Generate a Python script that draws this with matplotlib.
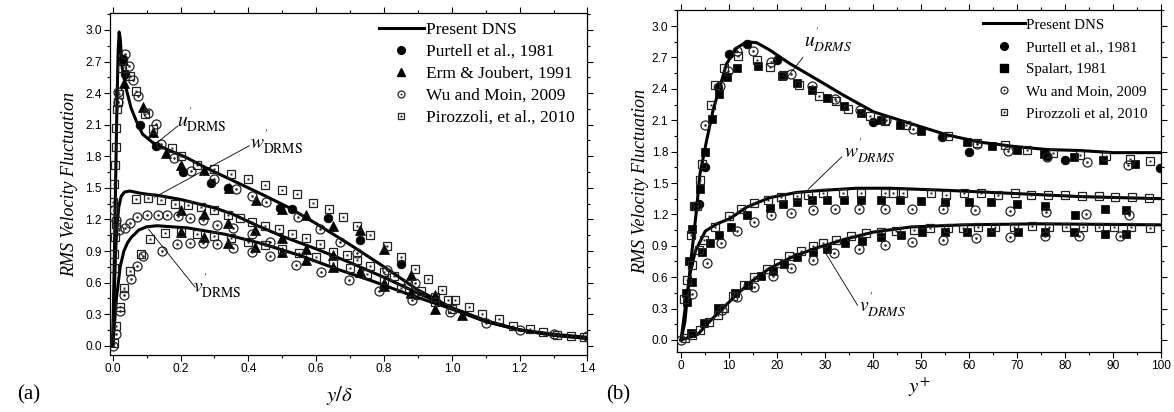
import numpy as np
import matplotlib.pyplot as plt
from matplotlib.lines import Line2D
from matplotlib.legend_handler import HandlerTuple
from matplotlib.ticker import MultipleLocator

plt.rcParams['mathtext.fontset'] = 'stix'
SERIF = 'Liberation Serif'
SANS = 'Liberation Sans'

# ---------------- panel (a): y/delta ----------------
a_dns_u_x = [0, 0.004, 0.008, 0.012, 0.016, 0.019, 0.022, 0.028, 0.039, 0.054, 0.069, 0.088, 0.118, 0.157,
             0.216, 0.275, 0.354, 0.452, 0.521, 0.60, 0.70, 0.80, 0.90, 1.00, 1.10, 1.20, 1.30, 1.40]
a_dns_u_y = [0, 0.7, 1.45, 2.2, 2.8, 2.98, 2.92, 2.64, 2.45, 2.26, 2.14, 2.01, 1.93, 1.87,
             1.79, 1.69, 1.57, 1.42, 1.31, 1.16, 0.96, 0.75, 0.53, 0.36, 0.23, 0.15, 0.10, 0.07]
a_dns_w_x = [0, 0.004, 0.008, 0.012, 0.018, 0.025, 0.035, 0.05, 0.065, 0.08, 0.10, 0.13, 0.20, 0.30,
             0.354, 0.42, 0.50, 0.60, 0.70, 0.80, 0.90, 1.00, 1.10, 1.20, 1.30, 1.40]
a_dns_w_y = [0, 0.45, 0.85, 1.12, 1.32, 1.42, 1.46, 1.47, 1.46, 1.45, 1.44, 1.43, 1.39, 1.31,
             1.25, 1.15, 1.04, 0.92, 0.79, 0.65, 0.50, 0.36, 0.24, 0.15, 0.10, 0.07]
a_dns_v_x = [0, 0.005, 0.011, 0.022, 0.033, 0.044, 0.055, 0.077, 0.10, 0.13, 0.22, 0.33, 0.44, 0.55,
             0.66, 0.77, 0.88, 0.99, 1.10, 1.20, 1.30, 1.40]
a_dns_v_y = [0, 0.2, 0.45, 0.75, 0.9, 0.98, 1.03, 1.1, 1.13, 1.14, 1.12, 1.06, 0.97, 0.86,
             0.73, 0.61, 0.48, 0.36, 0.23, 0.15, 0.11, 0.08]

a_purtell_x = [0.03, 0.037, 0.079, 0.128, 0.206, 0.29, 0.34, 0.494, 0.528, 0.636, 0.73, 0.85]
a_purtell_y = [2.72, 2.58, 2.10, 1.90, 1.65, 1.55, 1.50, 1.31, 1.30, 1.21, 1.00, 0.78]

a_erm_u_x = [0.03, 0.034, 0.088, 0.118, 0.157, 0.20, 0.27, 0.344, 0.423, 0.50, 0.57, 0.65, 0.73, 0.80, 0.88, 0.95]
a_erm_u_y = [2.71, 2.50, 2.27, 2.03, 1.83, 1.72, 1.67, 1.50, 1.38, 1.30, 1.24, 1.14, 1.10, 0.92, 0.67, 0.48]
a_erm_w_x = [0.20, 0.27, 0.34, 0.42, 0.50, 0.57, 0.65, 0.73, 0.80, 0.88, 0.95]
a_erm_w_y = [1.29, 1.25, 1.17, 1.10, 1.02, 0.92, 0.86, 0.71, 0.60, 0.51, 0.45]
a_erm_v_x = [0.20, 0.27, 0.34, 0.42, 0.50, 0.57, 0.65, 0.73, 0.80, 0.88, 0.95, 1.03]
a_erm_v_y = [1.08, 1.03, 0.98, 0.94, 0.89, 0.81, 0.75, 0.70, 0.57, 0.50, 0.35, 0.29]

a_wu_u_x = [0.0, 0.015, 0.017, 0.037, 0.047, 0.059, 0.074, 0.103, 0.128, 0.143, 0.182, 0.231, 0.30,
            0.364, 0.41, 0.452, 0.547, 0.61, 0.67, 0.72, 0.81, 0.89]
a_wu_u_y = [0.0, 2.32, 2.41, 2.77, 2.66, 2.52, 2.37, 2.21, 2.11, 1.92, 1.78, 1.66, 1.58,
            1.49, 1.42, 1.37, 1.22, 1.11, 0.99, 0.88, 0.72, 0.60]
a_wu_w_x = [0.004, 0.01, 0.02, 0.035, 0.05, 0.072, 0.10, 0.133, 0.16, 0.193, 0.227, 0.265, 0.307,
            0.356, 0.41, 0.464]
a_wu_w_y = [1.29, 1.19, 1.10, 1.12, 1.17, 1.22, 1.24, 1.24, 1.24, 1.23, 1.21, 1.19, 1.15,
            1.12, 1.06, 0.99]
a_wu_v_x = [0.011, 0.022, 0.033, 0.055, 0.072, 0.09, 0.144, 0.19, 0.227, 0.265, 0.307, 0.356, 0.41,
            0.464, 0.54, 0.613, 0.696, 0.785, 0.884, 0.994, 1.1, 1.2, 1.3, 1.4]
a_wu_v_y = [0.11, 0.33, 0.48, 0.63, 0.76, 0.85, 0.90, 0.97, 0.98, 0.98, 0.97, 0.93, 0.89,
            0.85, 0.77, 0.70, 0.62, 0.52, 0.43, 0.32, 0.22, 0.15, 0.11, 0.09]

a_pir_u_x = [0.002, 0.004, 0.007, 0.009, 0.010, 0.014, 0.017, 0.020, 0.026, 0.05, 0.069, 0.095, 0.12, 0.174,
             0.20, 0.25, 0.30, 0.35, 0.40, 0.45, 0.50, 0.543, 0.592, 0.638, 0.68, 0.72, 0.76, 0.81, 0.85,
             0.89, 0.93, 0.97, 1.01, 1.05, 1.09, 1.14, 1.18, 1.23, 1.27, 1.31, 1.35, 1.39]
a_pir_u_y = [1.37, 1.54, 1.72, 1.89, 2.07, 2.25, 2.32, 2.39, 2.64, 2.56, 2.42, 2.20, 2.06, 1.88,
             1.80, 1.72, 1.68, 1.63, 1.58, 1.53, 1.48, 1.44, 1.36, 1.30, 1.22, 1.14, 1.05, 0.95, 0.84,
             0.73, 0.63, 0.53, 0.43, 0.37, 0.30, 0.25, 0.19, 0.16, 0.13, 0.10, 0.09, 0.08]
a_pir_w_x = [0.003, 0.005, 0.007, 0.010, 0.069, 0.103, 0.143, 0.184, 0.221, 0.26, 0.30, 0.34, 0.375, 0.41,
             0.45, 0.49, 0.53, 0.57, 0.61, 0.65, 0.69, 0.72, 0.76, 0.80, 0.83, 0.87, 0.91, 0.95, 0.99]
a_pir_w_y = [0.74, 0.87, 1.03, 1.16, 1.39, 1.40, 1.38, 1.35, 1.34, 1.32, 1.29, 1.24, 1.21, 1.18,
             1.14, 1.11, 1.06, 1.02, 0.97, 0.89, 0.86, 0.81, 0.76, 0.70, 0.66, 0.59, 0.52, 0.46, 0.43]
a_pir_v_x = [0.005, 0.011, 0.022, 0.033, 0.05, 0.083, 0.11, 0.155, 0.20, 0.25, 0.30, 0.35, 0.40, 0.45,
             0.50, 0.55, 0.60, 0.65, 0.70, 0.75, 0.80, 0.85, 0.90, 0.95, 1.00]
a_pir_v_y = [0.03, 0.19, 0.37, 0.55, 0.71, 0.87, 1.01, 1.07, 1.08, 1.06, 1.04, 1.02, 0.99, 0.96,
             0.92, 0.88, 0.84, 0.79, 0.74, 0.68, 0.62, 0.55, 0.48, 0.42, 0.35]

# ---------------- panel (b): y+ ----------------
b_dns_u_x = [0, 0.8, 1.95, 3.1, 3.96, 5.35, 6.7, 8.1, 9.5, 11.6, 13.7, 15.8, 18.5, 22.7, 28.3, 33.8,
             40.1, 48.4, 55.4, 62.3, 69.3, 76.2, 83.2, 90.1, 100]
b_dns_u_y = [0, 0.17, 0.71, 1.19, 1.59, 1.91, 2.2, 2.42, 2.64, 2.79, 2.85, 2.84, 2.77, 2.64, 2.49, 2.34,
             2.18, 2.06, 1.96, 1.89, 1.85, 1.82, 1.81, 1.79, 1.79]
b_dns_w_x = [0, 1.0, 2.0, 3.0, 5.06, 7.5, 10.2, 13.7, 18.5, 24.1, 29.6, 36.6, 43.5, 55.4, 69.3, 83.2, 100]
b_dns_w_y = [0, 0.35, 0.66, 0.85, 1.04, 1.11, 1.16, 1.27, 1.36, 1.41, 1.43, 1.45, 1.45, 1.43, 1.40, 1.37, 1.35]
b_dns_v_x = [0, 3.5, 5.8, 8.2, 11.3, 14.4, 18.3, 23, 27.6, 33.9, 40, 47.9, 58.8, 74.3, 100]
b_dns_v_y = [0, 0.054, 0.17, 0.28, 0.42, 0.55, 0.68, 0.79, 0.87, 0.96, 1.03, 1.08, 1.10, 1.11, 1.10]

b_purtell_x = [3.8, 4.9, 7.8, 9.9, 13.8, 19.9, 39.9, 54.3, 59.9, 76.2, 80.0, 99.8]
b_purtell_y = [1.30, 1.65, 2.42, 2.73, 2.83, 2.68, 2.08, 1.94, 1.80, 1.76, 1.72, 1.64]

b_spal_u_x = [1.0, 1.56, 2.3, 3.0, 3.96, 5.0, 6.5, 8.0, 9.5, 11.6, 16.1, 21.1, 24.1, 27.2, 30.5, 33.9, 37.6,
              41.6, 45.6, 50.1, 59.6, 64.7, 70.1, 75.7, 81.8, 88.0, 94.5]
b_spal_u_y = [0.45, 0.75, 1.06, 1.28, 1.44, 1.80, 2.11, 2.35, 2.51, 2.60, 2.62, 2.52, 2.46, 2.39, 2.31, 2.24, 2.17,
              2.10, 2.05, 2.00, 1.89, 1.85, 1.82, 1.78, 1.75, 1.72, 1.68]
b_spal_w_x = [1.3, 2.3, 4.3, 6.0, 8.0, 10.5, 13.7, 18.5, 21.3, 24.1, 27.2, 30.5, 33.9, 37.6, 41.6, 45.6,
              50.1, 55.0, 60.0, 64.6, 70.0, 75.9, 82.0, 88.3, 92.8]
b_spal_w_y = [0.36, 0.55, 0.84, 0.93, 1.00, 1.08, 1.19, 1.26, 1.30, 1.32, 1.34, 1.34, 1.34, 1.34, 1.34, 1.34,
              1.33, 1.32, 1.32, 1.32, 1.30, 1.28, 1.19, 1.25, 1.24]
b_spal_v_x = [2.0, 4.7, 7.8, 11.3, 14.0, 16.7, 19.1, 21.4, 24.1, 27.6, 30.4, 34.2, 37.7, 41.6, 45.9, 50.2,
              54.9, 59.5, 64.6, 70.2, 75.9, 81.9, 88.3, 92.8]
b_spal_v_y = [0.07, 0.16, 0.31, 0.45, 0.53, 0.61, 0.66, 0.73, 0.79, 0.84, 0.87, 0.93, 0.95, 0.98, 1.00, 1.03,
              1.03, 1.03, 1.03, 1.03, 1.03, 1.03, 1.01, 1.01]

b_wu_u_x = [0, 5.1, 8.2, 9.7, 11.6, 15.0, 18.8, 23.0, 27.2, 32.1, 37.2, 42.7, 48.4, 61.6, 68.2, 76.2, 84.5, 93.2]
b_wu_u_y = [0, 2.05, 2.43, 2.57, 2.76, 2.76, 2.66, 2.54, 2.43, 2.30, 2.20, 2.10, 2.02, 1.87, 1.81, 1.75, 1.70, 1.67]
b_wu_w_x = [2.3, 5.4, 8.3, 11.6, 15.2, 18.8, 23.0, 27.4, 32.0, 37.0, 42.4, 48.2, 54.5, 61.3, 68.5, 76.0, 84.4, 93.4]
b_wu_w_y = [0.44, 0.74, 0.93, 1.04, 1.13, 1.19, 1.21, 1.24, 1.25, 1.25, 1.25, 1.25, 1.25, 1.24, 1.23, 1.22, 1.20, 1.19]
b_wu_v_x = [8.6, 11.7, 15.2, 19.1, 23.0, 27.5, 31.9, 37.0, 42.4, 48.2, 54.5, 61.5, 68.5, 75.9, 82.9, 91.4]
b_wu_v_y = [0.29, 0.41, 0.51, 0.61, 0.69, 0.76, 0.83, 0.87, 0.91, 0.94, 0.96, 0.97, 0.98, 0.99, 0.99, 0.99]

b_pir_u_x = [0.6, 2.1, 2.7, 3.3, 4.0, 4.4, 6.2, 7.1, 9.0, 11.9, 15.8, 18.5, 21.3, 24.6, 28.8, 32.2, 34.8, 39.3,
             42.5, 46.8, 55.6, 61.6, 67.5, 72.0, 77.6, 83.1, 88.6, 93.5, 97.8]
b_pir_u_y = [0.39, 1.00, 1.28, 1.28, 1.53, 1.68, 2.25, 2.44, 2.60, 2.71, 2.68, 2.61, 2.53, 2.44, 2.33, 2.28, 2.21, 2.14,
             2.09, 2.05, 1.95, 1.88, 1.86, 1.82, 1.79, 1.77, 1.76, 1.73, 1.71]
b_pir_w_x = [1.3, 2.3, 3.7, 4.8, 7.0, 10.1, 12.5, 15.2, 18.2, 20.8, 24.1, 26.5, 29.6, 33.7, 37.6, 42.5, 44.2,
             46.3, 52.0, 55.3, 59.0, 62.5, 66.0, 69.5, 73.0, 76.5, 80.0, 83.5, 87.0, 90.5, 94.0, 97.5]
b_pir_w_y = [0.57, 0.72, 0.86, 0.96, 1.08, 1.18, 1.25, 1.31, 1.34, 1.37, 1.38, 1.39, 1.40, 1.40, 1.40, 1.40, 1.40,
             1.40, 1.40, 1.39, 1.40, 1.40, 1.39, 1.40, 1.39, 1.39, 1.39, 1.38, 1.38, 1.37, 1.37, 1.36]
b_pir_v_x = [0.8, 2.3, 3.9, 5.8, 7.8, 9.0, 10.9, 13.1, 15.2, 17.9, 20.2, 22.6, 24.9, 27.5, 29.6, 32.3, 35.4,
             38.5, 41.6, 44.7, 48.6, 51.8, 55.6, 58.8, 61.9, 65.4, 69.3, 73.2, 76.7, 80.2, 83.7, 87.0, 90.3,
             93.8, 97.7]
b_pir_v_y = [0.02, 0.05, 0.10, 0.17, 0.24, 0.31, 0.42, 0.53, 0.60, 0.68, 0.74, 0.80, 0.85, 0.90, 0.93, 0.96, 0.99,
             1.02, 1.03, 1.04, 1.05, 1.07, 1.07, 1.07, 1.08, 1.08, 1.08, 1.09, 1.08, 1.08, 1.08, 1.08, 1.08,
             1.08, 1.07]


def filled(ax, x, y, marker, ms):
    ax.plot(x, y, ls='none', marker=marker, ms=ms, mfc='k', mec='k', mew=0.5, zorder=3)


def dotted(ax, x, y, marker, ms):
    ax.plot(x, y, ls='none', marker=marker, ms=ms, mfc='none', mec='#222222', mew=0.9, zorder=3)
    ax.plot(x, y, ls='none', marker=marker, ms=ms * 0.28, mfc='#222222', mec='none', zorder=3)


def style_axes(ax, xmaj, xmin, xlim, ylim):
    ax.set_xlim(*xlim)
    ax.set_ylim(*ylim)
    ax.xaxis.set_major_locator(MultipleLocator(xmaj))
    ax.xaxis.set_minor_locator(MultipleLocator(xmin))
    ax.yaxis.set_major_locator(MultipleLocator(0.3))
    ax.yaxis.set_minor_locator(MultipleLocator(0.15))
    ax.tick_params(which='both', direction='out', top=True, right=True, labeltop=False, labelright=False,
                   width=0.8, labelsize=8.6, pad=2)
    ax.tick_params(which='major', length=4)
    ax.tick_params(which='minor', length=2.5)
    for lab in ax.get_xticklabels() + ax.get_yticklabels():
        lab.set_family(SANS)
    for s in ax.spines.values():
        s.set_linewidth(0.9)


def lead(ax, start, end):
    ax.annotate('', xy=end, xytext=start,
                arrowprops=dict(arrowstyle='-', lw=0.6, color='k', shrinkA=0, shrinkB=0))


fig = plt.figure(figsize=(11.74, 4.12), dpi=100)
axa = fig.add_axes([0.0937, 0.1383, 0.4067, 0.8294])
axb = fig.add_axes([0.5764, 0.1456, 0.4125, 0.8301])

# ---- (a)
for xs, ys in [(a_dns_u_x, a_dns_u_y), (a_dns_w_x, a_dns_w_y), (a_dns_v_x, a_dns_v_y)]:
    axa.plot(xs, ys, color='k', lw=2.2, zorder=2)
filled(axa, a_purtell_x, a_purtell_y, 'o', 6.3)
for xs, ys in [(a_erm_u_x, a_erm_u_y), (a_erm_w_x, a_erm_w_y), (a_erm_v_x, a_erm_v_y)]:
    filled(axa, xs, ys, '^', 6.8)
for xs, ys in [(a_wu_u_x, a_wu_u_y), (a_wu_w_x, a_wu_w_y), (a_wu_v_x, a_wu_v_y)]:
    dotted(axa, xs, ys, 'o', 6.5)
for xs, ys in [(a_pir_u_x, a_pir_u_y), (a_pir_w_x, a_pir_w_y), (a_pir_v_x, a_pir_v_y)]:
    dotted(axa, xs, ys, 's', 5.6)

style_axes(axa, 0.2, 0.1, (-0.008, 1.4), (-0.088, 3.158))
axa.set_ylabel('RMS Velocity Fluctuation', family=SERIF, style='italic', fontsize=13, labelpad=5)
axa.set_xlabel(r'$y/\delta$', fontsize=15, labelpad=4)
axa.xaxis.set_label_coords(0.48, -0.085)

lead(axa, (0.193, 2.09), (0.131, 1.93))
axa.text(0.19, 2.08, r"$u^{'}_{\mathrm{DRMS}}$", fontsize=14)
lead(axa, (0.403, 1.90), (0.123, 1.41))
axa.text(0.405, 1.87, r"$w^{'}_{\mathrm{DRMS}}$", fontsize=14)
lead(axa, (0.243, 0.556), (0.105, 1.11))
axa.text(0.236, 0.50, r"$v^{'}_{\mathrm{DRMS}}$", fontsize=14)

h_dns = Line2D([], [], color='k', lw=2.2)
h_pur = Line2D([], [], ls='none', marker='o', ms=5.5, mfc='k', mec='k')
h_erm = Line2D([], [], ls='none', marker='^', ms=6, mfc='k', mec='k')
h_spa = Line2D([], [], ls='none', marker='s', ms=5.5, mfc='k', mec='k')
h_wu = (Line2D([], [], ls='none', marker='o', ms=5, mfc='none', mec='#222222', mew=0.9),
        Line2D([], [], ls='none', marker='o', ms=1.4, mfc='#222222', mec='none'))
h_pir = (Line2D([], [], ls='none', marker='s', ms=4.8, mfc='none', mec='#222222', mew=0.9),
         Line2D([], [], ls='none', marker='s', ms=1.4, mfc='#222222', mec='none'))

axa.legend([h_dns, h_pur, h_erm, h_wu, h_pir],
           ['Present DNS', 'Purtell et al., 1981', 'Erm & Joubert, 1991', 'Wu and Moin, 2009',
            'Pirozzoli, et al., 2010'],
           handler_map={tuple: HandlerTuple(ndivide=1)},
           loc='upper left', bbox_to_anchor=(0.563, 0.976), frameon=False,
           prop={'family': SERIF, 'size': 12.5}, handlelength=2.6, handletextpad=0.1,
           labelspacing=0.34, borderpad=0, borderaxespad=0)

# ---- (b)
for xs, ys in [(b_dns_u_x, b_dns_u_y), (b_dns_w_x, b_dns_w_y), (b_dns_v_x, b_dns_v_y)]:
    axb.plot(xs, ys, color='k', lw=2.2, zorder=2)
filled(axb, b_purtell_x, b_purtell_y, 'o', 6.3)
for xs, ys in [(b_spal_u_x, b_spal_u_y), (b_spal_w_x, b_spal_w_y), (b_spal_v_x, b_spal_v_y)]:
    filled(axb, xs, ys, 's', 5.8)
for xs, ys in [(b_wu_u_x, b_wu_u_y), (b_wu_w_x, b_wu_w_y), (b_wu_v_x, b_wu_v_y)]:
    dotted(axb, xs, ys, 'o', 6.5)
for xs, ys in [(b_pir_u_x, b_pir_u_y), (b_pir_w_x, b_pir_w_y), (b_pir_v_x, b_pir_v_y)]:
    dotted(axb, xs, ys, 's', 5.6)

style_axes(axb, 10, 5, (-0.9, 100), (-0.115, 3.153))
axb.set_ylabel('RMS Velocity Fluctuation', family=SERIF, style='italic', fontsize=13, labelpad=2)
axb.set_xlabel(r'$y^{+}$', fontsize=15, labelpad=2)

lead(axb, (25.4, 2.70), (22.1, 2.51))
axb.text(25.6, 2.80, r"$u^{'}_{DRMS}$", fontsize=14)
lead(axb, (33.5, 1.75), (26.5, 1.44))
axb.text(34.0, 1.74, r"$w^{'}_{DRMS}$", fontsize=14)
lead(axb, (36.8, 0.33), (29.6, 0.87))
axb.text(37.0, 0.27, r"$v^{'}_{DRMS}$", fontsize=14)

axb.legend([h_dns, h_pur, h_spa, h_wu, h_pir],
           ['Present DNS', 'Purtell et al., 1981', 'Spalart, 1981', 'Wu and Moin, 2009',
            'Pirozzoli et al, 2010'],
           handler_map={tuple: HandlerTuple(ndivide=1)},
           loc='upper left', bbox_to_anchor=(0.632, 0.976), frameon=False,
           prop={'family': SERIF, 'size': 10.8}, handlelength=2.8, handletextpad=0.1,
           labelspacing=0.58, borderpad=0, borderaxespad=0)

fig.text(0.015, 0.03, '(a)', family=SERIF, fontsize=15)
fig.text(0.516, 0.03, '(b)', family=SERIF, fontsize=15)

fig.savefig('out.png', dpi=100)
